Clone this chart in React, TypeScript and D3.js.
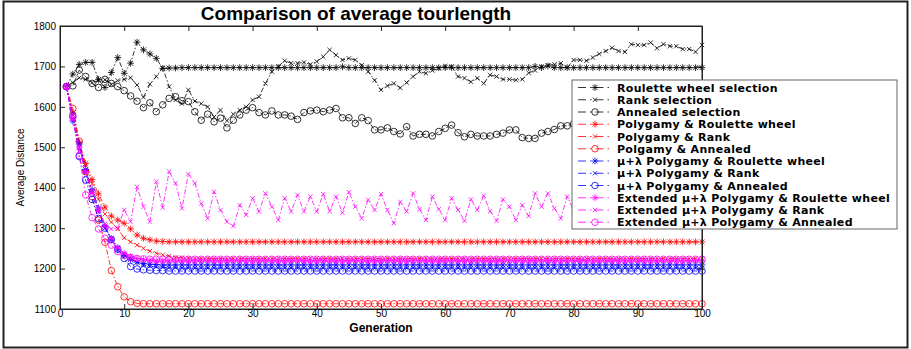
import React, { useRef, useEffect } from "react";
import * as d3 from "d3";

// generations 1..100 on the x axis
const generations = d3.range(1, 101);
const xTicks = [0, 10, 20, 30, 40, 50, 60, 70, 80, 90, 100];
const yTicks = [1100, 1200, 1300, 1400, 1500, 1600, 1700, 1800];

const rouletteSel = [
  1650, 1681, 1705, 1710, 1710, 1668, 1648, 1685, 1722, 1683,
  1708, 1760, 1741, 1731, 1720, 1695, 1696, 1696, 1697, 1697,
  1697, 1697, 1697, 1697, 1697, 1697, 1697, 1697, 1697, 1697,
  1697, 1697, 1697, 1697, 1697, 1697, 1697, 1697, 1697, 1697,
  1697, 1697, 1697, 1699, 1697, 1697, 1697, 1697, 1697, 1697,
  1697, 1697, 1697, 1697, 1697, 1697, 1697, 1697, 1697, 1697,
  1697, 1697, 1697, 1697, 1697, 1697, 1697, 1697, 1697, 1697,
  1697, 1697, 1697, 1700, 1697, 1701, 1697, 1697, 1697, 1697,
  1697, 1697, 1697, 1697, 1697, 1697, 1697, 1697, 1697, 1697,
  1697, 1697, 1697, 1697, 1697, 1697, 1697, 1697, 1697, 1697,
];
const rankSel = [
  1650, 1660, 1672, 1668, 1660, 1665, 1667, 1655, 1665, 1668,
  1672, 1654, 1624, 1656, 1675, 1697, 1650, 1617, 1608, 1642,
  1614, 1608, 1600, 1575, 1592, 1566, 1582, 1592, 1600, 1617,
  1625, 1658, 1687, 1700, 1714, 1708, 1708, 1710, 1705, 1712,
  1724, 1741, 1728, 1716, 1720, 1716, 1703, 1687, 1666, 1642,
  1652, 1658, 1647, 1660, 1675, 1687, 1683, 1690, 1695, 1701,
  1700, 1675, 1671, 1662, 1671, 1658, 1679, 1675, 1668, 1668,
  1666, 1668, 1684, 1690, 1700, 1703, 1705, 1708, 1697, 1716,
  1716, 1714, 1722, 1731, 1738, 1746, 1738, 1736, 1755, 1753,
  1753, 1759, 1745, 1755, 1750, 1750, 1743, 1743, 1736, 1753,
];
const annealedSel = [
  1650, 1652, 1691, 1675, 1658, 1648, 1668, 1658, 1650, 1640,
  1627, 1614, 1598, 1610, 1588, 1605, 1621, 1625, 1615, 1613,
  1588, 1567, 1582, 1563, 1572, 1548, 1567, 1580, 1592, 1598,
  1586, 1580, 1590, 1580, 1580, 1577, 1569, 1586, 1590, 1592,
  1588, 1592, 1596, 1573, 1573, 1559, 1573, 1566, 1543, 1543,
  1548, 1539, 1533, 1551, 1528, 1532, 1532, 1528, 1539, 1547,
  1555, 1536, 1526, 1532, 1528, 1528, 1528, 1532, 1535, 1543,
  1543, 1524, 1522, 1522, 1535, 1539, 1544, 1553, 1553, 1558,
  1556, 1560, 1552, 1558, 1562, 1555, 1560, 1565, 1558, 1562,
  1566, 1560, 1564, 1570, 1563, 1567, 1572, 1566, 1570, 1574,
];
const polyRoulette = [
  1650, 1585, 1512, 1460, 1420, 1385, 1352, 1330, 1320, 1312,
  1298, 1283, 1275, 1271, 1268, 1267, 1266, 1266, 1266, 1266,
  1266, 1266, 1266, 1266, 1266, 1266, 1266, 1266, 1266, 1266,
  1266, 1266, 1266, 1266, 1266, 1266, 1266, 1266, 1266, 1266,
  1266, 1266, 1266, 1266, 1266, 1266, 1266, 1266, 1266, 1266,
  1266, 1266, 1266, 1266, 1266, 1266, 1266, 1266, 1266, 1266,
  1266, 1266, 1266, 1266, 1266, 1266, 1266, 1266, 1266, 1266,
  1266, 1266, 1266, 1266, 1266, 1266, 1266, 1266, 1266, 1266,
  1266, 1266, 1266, 1266, 1266, 1266, 1266, 1266, 1266, 1266,
  1266, 1266, 1266, 1266, 1266, 1266, 1266, 1266, 1266, 1266,
];
const polyRank = [
  1650, 1580, 1508, 1455, 1410, 1372, 1335, 1315, 1298, 1276,
  1266, 1258, 1250, 1243, 1238, 1234, 1231, 1228, 1227, 1226,
  1225, 1225, 1225, 1225, 1225, 1225, 1225, 1225, 1225, 1225,
  1225, 1225, 1225, 1225, 1225, 1225, 1225, 1225, 1225, 1225,
  1225, 1225, 1225, 1225, 1225, 1225, 1225, 1225, 1225, 1225,
  1225, 1225, 1225, 1225, 1225, 1225, 1225, 1225, 1225, 1225,
  1225, 1225, 1225, 1225, 1225, 1225, 1225, 1225, 1225, 1225,
  1225, 1225, 1225, 1225, 1225, 1225, 1225, 1225, 1225, 1225,
  1225, 1225, 1225, 1225, 1225, 1225, 1225, 1225, 1225, 1225,
  1225, 1225, 1225, 1225, 1225, 1225, 1225, 1225, 1225, 1225,
];
const polyAnnealed = [
  1650, 1596, 1515, 1440, 1378, 1320, 1265, 1195, 1155, 1130,
  1118, 1114, 1113, 1113, 1113, 1113, 1113, 1113, 1113, 1113,
  1113, 1113, 1113, 1113, 1113, 1113, 1113, 1113, 1113, 1113,
  1113, 1113, 1113, 1113, 1113, 1113, 1113, 1113, 1113, 1113,
  1113, 1113, 1113, 1113, 1113, 1113, 1113, 1113, 1113, 1113,
  1113, 1113, 1113, 1113, 1113, 1113, 1113, 1113, 1113, 1113,
  1113, 1113, 1113, 1113, 1113, 1113, 1113, 1113, 1113, 1113,
  1113, 1113, 1113, 1113, 1113, 1113, 1113, 1113, 1113, 1113,
  1113, 1113, 1113, 1113, 1113, 1113, 1113, 1113, 1113, 1113,
  1113, 1113, 1113, 1113, 1113, 1113, 1113, 1113, 1113, 1113,
];
const muRoulette = [
  1650, 1565, 1508, 1445, 1395, 1350, 1305, 1271, 1246, 1232,
  1222, 1216, 1213, 1211, 1210, 1209, 1209, 1209, 1209, 1209,
  1209, 1209, 1209, 1209, 1209, 1209, 1209, 1209, 1209, 1209,
  1209, 1209, 1209, 1209, 1209, 1209, 1209, 1209, 1209, 1209,
  1209, 1209, 1209, 1209, 1209, 1209, 1209, 1209, 1209, 1209,
  1209, 1209, 1209, 1209, 1209, 1209, 1209, 1209, 1209, 1209,
  1209, 1209, 1209, 1209, 1209, 1209, 1209, 1209, 1209, 1209,
  1209, 1209, 1209, 1209, 1209, 1209, 1209, 1209, 1209, 1209,
  1209, 1209, 1209, 1209, 1209, 1209, 1209, 1209, 1209, 1209,
  1209, 1209, 1209, 1209, 1209, 1209, 1209, 1209, 1209, 1209,
];
const muRank = [
  1650, 1572, 1500, 1438, 1388, 1340, 1300, 1275, 1252, 1236,
  1224, 1215, 1209, 1206, 1204, 1203, 1202, 1202, 1201, 1201,
  1201, 1201, 1201, 1201, 1201, 1201, 1201, 1201, 1201, 1201,
  1201, 1201, 1201, 1201, 1201, 1201, 1201, 1201, 1201, 1201,
  1201, 1201, 1201, 1201, 1201, 1201, 1201, 1201, 1201, 1201,
  1201, 1201, 1201, 1201, 1201, 1201, 1201, 1201, 1201, 1201,
  1201, 1201, 1201, 1201, 1201, 1201, 1201, 1201, 1201, 1201,
  1201, 1201, 1201, 1201, 1201, 1201, 1201, 1201, 1201, 1201,
  1201, 1201, 1201, 1201, 1201, 1201, 1201, 1201, 1201, 1201,
  1201, 1201, 1201, 1201, 1201, 1201, 1201, 1201, 1201, 1201,
];
const muAnnealed = [
  1650, 1578, 1477, 1419, 1371, 1324, 1300, 1272, 1248, 1225,
  1205, 1199, 1197, 1196, 1195, 1195, 1194, 1194, 1194, 1194,
  1194, 1194, 1194, 1194, 1194, 1194, 1194, 1194, 1194, 1194,
  1194, 1194, 1194, 1194, 1194, 1194, 1194, 1194, 1194, 1194,
  1194, 1194, 1194, 1194, 1194, 1194, 1194, 1194, 1194, 1194,
  1194, 1194, 1194, 1194, 1194, 1194, 1194, 1194, 1194, 1194,
  1194, 1194, 1194, 1194, 1194, 1194, 1194, 1194, 1194, 1194,
  1194, 1194, 1194, 1194, 1194, 1194, 1194, 1194, 1194, 1194,
  1194, 1194, 1194, 1194, 1194, 1194, 1194, 1194, 1194, 1194,
  1194, 1194, 1194, 1194, 1194, 1194, 1194, 1194, 1194, 1194,
];
const extRoulette = [
  1650, 1572, 1500, 1440, 1388, 1345, 1305, 1275, 1252, 1238,
  1230, 1225, 1222, 1220, 1219, 1219, 1219, 1219, 1219, 1219,
  1219, 1219, 1219, 1219, 1219, 1219, 1219, 1219, 1219, 1219,
  1219, 1219, 1219, 1219, 1219, 1219, 1219, 1219, 1219, 1219,
  1219, 1219, 1219, 1219, 1219, 1219, 1219, 1219, 1219, 1219,
  1219, 1219, 1219, 1219, 1219, 1219, 1219, 1219, 1219, 1219,
  1219, 1219, 1219, 1219, 1219, 1219, 1219, 1219, 1219, 1219,
  1219, 1219, 1219, 1219, 1219, 1219, 1219, 1219, 1219, 1219,
  1219, 1219, 1219, 1219, 1219, 1219, 1219, 1219, 1219, 1219,
  1219, 1219, 1219, 1219, 1219, 1219, 1219, 1219, 1219, 1219,
];
const extRank = [
  1650, 1570, 1500, 1440, 1390, 1345, 1310, 1298, 1300, 1345,
  1316, 1402, 1353, 1316, 1415, 1351, 1440, 1411, 1349, 1434,
  1411, 1361, 1324, 1390, 1345, 1316, 1305, 1357, 1333, 1374,
  1341, 1386, 1353, 1320, 1374, 1341, 1382, 1341, 1378, 1341,
  1384, 1342, 1378, 1338, 1389, 1353, 1324, 1370, 1345, 1384,
  1345, 1312, 1365, 1341, 1386, 1347, 1320, 1378, 1347, 1320,
  1374, 1345, 1318, 1371, 1345, 1380, 1342, 1318, 1371, 1353,
  1320, 1357, 1330, 1386, 1353, 1386, 1349, 1324, 1378, 1345,
  1320, 1372, 1340, 1383, 1350, 1322, 1375, 1344, 1380, 1338,
  1318, 1368, 1342, 1385, 1352, 1325, 1376, 1346, 1381, 1340,
];
const extAnnealed = [
  1650, 1575, 1480, 1382, 1326, 1298, 1275, 1258, 1242, 1232,
  1227, 1225, 1224, 1223, 1223, 1223, 1223, 1223, 1223, 1223,
  1223, 1223, 1223, 1223, 1223, 1223, 1223, 1223, 1223, 1223,
  1223, 1223, 1223, 1223, 1223, 1223, 1223, 1223, 1223, 1223,
  1223, 1223, 1223, 1223, 1223, 1223, 1223, 1223, 1223, 1223,
  1223, 1223, 1223, 1223, 1223, 1223, 1223, 1223, 1223, 1223,
  1223, 1223, 1223, 1223, 1223, 1223, 1223, 1223, 1223, 1223,
  1223, 1223, 1223, 1223, 1223, 1223, 1223, 1223, 1223, 1223,
  1223, 1223, 1223, 1223, 1223, 1223, 1223, 1223, 1223, 1223,
  1223, 1223, 1223, 1223, 1223, 1223, 1223, 1223, 1223, 1223,
];

const seriesNames = [
  "Roulette wheel selection",
  "Rank selection",
  "Annealed selection",
  "Polygamy & Roulette wheel",
  "Polygamy & Rank",
  "Polgamy & Annealed",
  "\u03bc+\u03bb Polygamy & Roulette wheel",
  "\u03bc+\u03bb Polygamy & Rank",
  "\u03bc+\u03bb Polygamy & Annealed",
  "Extended \u03bc+\u03bb Polygamy & Roulette wheel",
  "Extended \u03bc+\u03bb Polygamy & Rank",
  "Extended \u03bc+\u03bb Polygamy & Annealed",
];
const seriesValues = [
  rouletteSel, rankSel, annealedSel,
  polyRoulette, polyRank, polyAnnealed,
  muRoulette, muRank, muAnnealed,
  extRoulette, extRank, extAnnealed,
];
const seriesColors = [
  "#000000", "#000000", "#000000",
  "#ff0000", "#ff0000", "#ff0000",
  "#0000ff", "#0000ff", "#0000ff",
  "#ff00ff", "#ff00ff", "#ff00ff",
];
const seriesMarkers = ["star", "x", "o", "star", "x", "o", "star", "x", "o", "star", "x", "o"];

const FONT = "'Liberation Sans', Arial, sans-serif";
const LEGEND_FONT = "'DejaVu Sans', Verdana, sans-serif";

function markerPath(type: string, r: number) {
  const k = r * 0.72;
  if (type === "star")
    return `M${-r},0L${r},0M0,${-r}L0,${r}M${-k},${-k}L${k},${k}M${-k},${k}L${k},${-k}`;
  return `M${-k},${-k}L${k},${k}M${-k},${k}L${k},${-k}`;
}

function drawMarker(g: any, type: string, color: string, x: number, y: number) {
  if (type === "o") {
    g.append("circle")
      .attr("cx", x).attr("cy", y).attr("r", 3.3)
      .attr("fill", "none").attr("stroke", color).attr("stroke-width", 0.8);
  } else {
    g.append("path")
      .attr("transform", `translate(${x},${y})`)
      .attr("d", markerPath(type, type === "star" ? 3.4 : 3))
      .attr("fill", "none").attr("stroke", color).attr("stroke-width", 0.8);
  }
}

function App() {
  const svgRef = useRef<SVGSVGElement>(null);

  useEffect(() => {
    const width = 911, height = 349;
    const margin = { top: 26, right: 209, bottom: 40, left: 60 };

    const xScale = d3.scaleLinear()
      .domain([0, 100])
      .range([margin.left, width - margin.right]);
    const yScale = d3.scaleLinear()
      .domain([1100, 1800])
      .range([height - margin.bottom, margin.top]);

    const svg = d3.select(svgRef.current);
    svg.selectAll("*").remove();
    svg.attr("width", width).attr("height", height);

    svg.append("rect")
      .attr("x", 0).attr("y", 0).attr("width", width).attr("height", height)
      .attr("fill", "#fff");

    // outer frame of the figure
    svg.append("rect")
      .attr("x", 3.5).attr("y", 1.5).attr("width", 904).attr("height", 346)
      .attr("fill", "none").attr("stroke", "#222").attr("stroke-width", 2);

    const [x0, x1] = xScale.range();
    const [y0, y1] = yScale.range();

    // series lines and markers
    const line = d3.line<number>()
      .x((d, i) => xScale(generations[i]))
      .y(d => yScale(d));

    seriesValues.forEach((vals, si) => {
      const g = svg.append("g");
      g.append("path")
        .attr("d", line(vals))
        .attr("fill", "none")
        .attr("stroke", seriesColors[si])
        .attr("stroke-width", 0.8)
        .attr("stroke-dasharray", "5,2,1.5,2");
      vals.forEach((v, i) => drawMarker(g, seriesMarkers[si], seriesColors[si], xScale(generations[i]), yScale(v)));
    });

    // axes box
    const axisColor = "#222";
    svg.append("rect")
      .attr("x", x0).attr("y", y1).attr("width", x1 - x0).attr("height", y0 - y1)
      .attr("fill", "none").attr("stroke", axisColor).attr("stroke-width", 1);

    const xAxis = d3.axisBottom(xScale).tickValues(xTicks).tickSize(-5).tickPadding(1).tickFormat(d3.format("d"));
    const yAxis = d3.axisLeft(yScale).tickValues(yTicks).tickSize(-5).tickPadding(4).tickFormat(d3.format("d"));

    const gx = svg.append("g").attr("transform", `translate(0,${y0})`).call(xAxis);
    const gy = svg.append("g").attr("transform", `translate(${x0},0)`).call(yAxis);
    svg.append("g").attr("transform", `translate(0,${y1})`)
      .call(d3.axisTop(xScale).tickValues(xTicks).tickSize(-5).tickFormat(() => ""));
    svg.append("g").attr("transform", `translate(${x1},0)`)
      .call(d3.axisRight(yScale).tickValues(yTicks).tickSize(-5).tickFormat(() => ""));

    svg.selectAll(".domain").attr("stroke", axisColor);
    svg.selectAll(".tick line").attr("stroke", axisColor);
    [gx, gy].forEach(g => g.selectAll("text")
      .attr("font-family", FONT).attr("font-size", 10).attr("fill", "#000"));

    // title and axis labels
    svg.append("text")
      .attr("x", 356).attr("y", 20)
      .attr("text-anchor", "middle")
      .attr("font-family", FONT).attr("font-size", 19).attr("font-weight", "bold")
      .text("Comparison of average tourlength");

    svg.append("text")
      .attr("x", (x0 + x1) / 2).attr("y", 332)
      .attr("text-anchor", "middle")
      .attr("font-family", FONT).attr("font-size", 12).attr("font-weight", "bold")
      .text("Generation");

    svg.append("text")
      .attr("transform", `translate(24,${(y0 + y1) / 2}) rotate(-90)`)
      .attr("text-anchor", "middle")
      .attr("font-family", FONT).attr("font-size", 11)
      .attr("textLength", 78).attr("lengthAdjust", "spacingAndGlyphs")
      .text("Average Distance");

    // legend
    const lg = svg.append("g");
    const lx = 572, ly = 80, lw = 325, lh = 149, rowH = 12.25;
    lg.append("rect")
      .attr("x", lx).attr("y", ly).attr("width", lw).attr("height", lh)
      .attr("fill", "#fff").attr("stroke", "#666").attr("stroke-width", 1);

    seriesNames.forEach((name, i) => {
      const cy = ly + 7.5 + i * rowH;
      lg.append("line")
        .attr("x1", lx + 6).attr("x2", lx + 40).attr("y1", cy).attr("y2", cy)
        .attr("stroke", seriesColors[i]).attr("stroke-width", 0.8)
        .attr("stroke-dasharray", "8,4,1.5,4");
      drawMarker(lg, seriesMarkers[i], seriesColors[i], lx + 23, cy);
      lg.append("text")
        .attr("x", lx + 45).attr("y", cy + 4)
        .attr("font-family", LEGEND_FONT).attr("font-size", 11).attr("font-weight", "bold")
        .attr("letter-spacing", 0.3)
        .text(name);
    });
  }, []);

  return (
    <div style={{ position: "absolute", left: 0, top: 0 }}>
      <svg ref={svgRef}></svg>
    </div>
  );
}

export default App;
